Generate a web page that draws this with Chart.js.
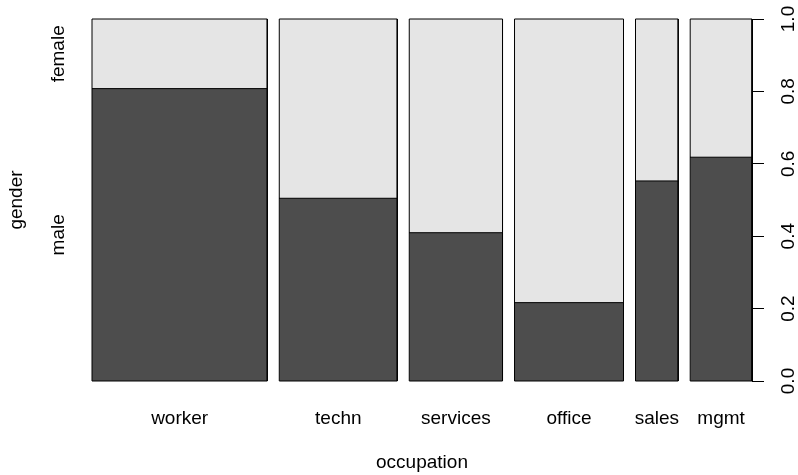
<!DOCTYPE html>
<html>
<head>
<meta charset="utf-8">
<script src="https://cdn.jsdelivr.net/npm/chart.js@4"></script>
<style>
  html, body { margin: 0; padding: 0; background: #fff; }
  #wrap { width: 798px; height: 475px; }
</style>
</head>
<body>
<div id="wrap"><canvas id="spine"></canvas></div>
<script>
// counts per occupation, split by gender
const occupation = ['worker', 'techn', 'services', 'office', 'sales', 'mgmt'];
const male = [126, 53, 34, 21, 21, 34];
const female = [30, 52, 49, 76, 17, 21];
const genderLabels = ['male', 'female'];
const yTicks = [0, 0.2, 0.4, 0.6, 0.8, 1.0];

const gap = 0.02;
const total = male.reduce((a, b) => a + b, 0) + female.reduce((a, b) => a + b, 0);

// spine widths proportional to group size, heights = share of males
const spans = [];
let pos = 0;
occupation.forEach((o, i) => {
  const n = male[i] + female[i];
  const w = n / total;
  spans.push({ x0: pos, x1: pos + w, p: male[i] / n });
  pos += w + gap;
});
const xMax = pos - gap;
const centers = spans.map(s => (s.x0 + s.x1) / 2);
const genderAt = [spans[0].p / 2, (spans[0].p + 1) / 2];

const font = { family: '"Liberation Sans", Arial, Helvetica, sans-serif', size: 19 };

const datasets = [];
spans.forEach((s, i) => {
  // light background (female share shows above the male block)
  datasets.push({
    label: occupation[i] + ' female',
    data: [{x: s.x0, y: 0}, {x: s.x0, y: 1}, {x: s.x1, y: 1}, {x: s.x1, y: 0}],
    backgroundColor: '#E5E5E5', borderWidth: 0, fill: 'origin', order: 3
  });
  datasets.push({
    label: occupation[i] + ' male',
    data: [{x: s.x0, y: 0}, {x: s.x0, y: s.p}, {x: s.x1, y: s.p}, {x: s.x1, y: 0}],
    backgroundColor: '#4D4D4D', borderWidth: 0, fill: 'origin', order: 2
  });
  // outline: divider, right, bottom, left, top, right
  datasets.push({
    label: occupation[i] + ' outline',
    data: [{x: s.x0, y: s.p}, {x: s.x1, y: s.p}, {x: s.x1, y: 0}, {x: s.x0, y: 0},
           {x: s.x0, y: 1}, {x: s.x1, y: 1}, {x: s.x1, y: s.p}],
    borderColor: '#000', borderWidth: 1, fill: false, order: 1,
    borderCapStyle: 'square', borderJoinStyle: 'miter'
  });
});
datasets.forEach(d => {
  d.pointRadius = 0;
  d.pointHoverRadius = 0;
  d.tension = 0;
  d.clip = false;
  d.yAxisID = 'y';
});

new Chart(document.getElementById('spine'), {
  type: 'line',
  data: { datasets: datasets },
  options: {
    responsive: true,
    maintainAspectRatio: false,
    animation: false,
    events: [],
    layout: { padding: { top: 19, left: 0, right: 0, bottom: 0 } },
    plugins: { legend: { display: false }, tooltip: { enabled: false } },
    scales: {
      x: {
        type: 'linear',
        min: 0,
        max: xMax,
        afterBuildTicks: s => { s.ticks = centers.map(v => ({ value: v })); },
        afterFit: s => { s.height = 94; s.paddingLeft = 0; s.paddingRight = 0; },
        ticks: {
          callback: (v, i) => occupation[i],
          autoSkip: false, minRotation: 0, maxRotation: 0,
          padding: 26, color: '#000', font: font
        },
        grid: { display: false, drawTicks: false },
        border: { display: false },
        title: { display: true, text: 'occupation', color: '#000', font: font, padding: { top: 0, bottom: 1 } }
      },
      yl: {
        type: 'linear',
        position: 'left',
        min: 0,
        max: 1,
        afterBuildTicks: s => { s.ticks = genderAt.map(v => ({ value: v })); },
        afterFit: s => { s.width = 92; s.paddingTop = 0; s.paddingBottom = 0; },
        ticks: {
          callback: (v, i) => genderLabels[i],
          autoSkip: false, minRotation: 90, maxRotation: 90, crossAlign: 'center',
          padding: 5, color: '#000', font: font
        },
        grid: { display: false, drawTicks: false },
        border: { display: false },
        title: { display: true, text: 'gender', color: '#000', font: font, padding: { top: 5, bottom: 0 } }
      },
      y: {
        type: 'linear',
        position: 'right',
        min: 0,
        max: 1,
        afterBuildTicks: s => { s.ticks = yTicks.map(v => ({ value: v })); },
        afterFit: s => { s.width = 46; s.paddingTop = 0; s.paddingBottom = 0; },
        ticks: {
          callback: v => v.toFixed(1),
          autoSkip: false, minRotation: 90, maxRotation: 90, crossAlign: 'center',
          padding: 12, color: '#000', font: font
        },
        grid: { display: true, drawOnChartArea: false, drawTicks: true, tickLength: 12, color: '#000', lineWidth: 1 },
        border: { display: true, color: '#000', width: 1 }
      }
    }
  }
});
</script>
</body>
</html>
